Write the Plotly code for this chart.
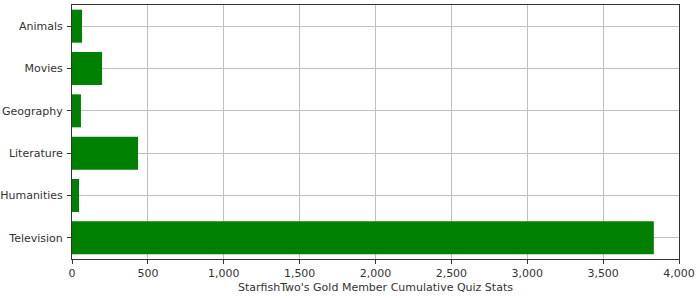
import plotly.graph_objects as go

categories = ["Animals", "Movies", "Geography", "Literature", "Humanities", "Television"]
values = [66, 198, 59, 435, 46, 3834]
x_ticks = [0, 500, 1000, 1500, 2000, 2500, 3000, 3500, 4000]
x_tick_labels = ["0", "500", "1,000", "1,500", "2,000", "2,500", "3,000", "3,500", "4,000"]
x_title = "StarfishTwo's Gold Member Cumulative Quiz Stats"

fig = go.Figure(go.Bar(
    x=values, y=categories, orientation="h",
    marker=dict(color="#008000", line=dict(width=0)),
    width=0.78,
))

fig.update_layout(
    width=700, height=300,
    margin=dict(l=72, r=21, t=5, b=41),
    paper_bgcolor="white", plot_bgcolor="white",
    font=dict(family="DejaVu Sans", size=11, color="#333333"),
    showlegend=False,
)
fig.update_xaxes(
    range=[0, 4000], tickvals=x_ticks, ticktext=x_tick_labels,
    showgrid=True, gridcolor="#c0c0c0", gridwidth=1,
    showline=True, linecolor="#333333", linewidth=1, mirror=True,
    ticks="outside", ticklen=4, tickcolor="#333333",
    zeroline=False, automargin=False,
    title=dict(text=x_title, standoff=4, font=dict(size=11)),
)
fig.update_yaxes(
    categoryorder="array", categoryarray=categories, autorange="reversed",
    range=[5.5, -0.5],
    showgrid=True, gridcolor="#c0c0c0", gridwidth=1,
    showline=True, linecolor="#333333", linewidth=1, mirror=True,
    ticks="outside", ticklen=4, tickcolor="#333333",
    ticklabelstandoff=2, automargin=False,
)

fig.write_html("out.html")
